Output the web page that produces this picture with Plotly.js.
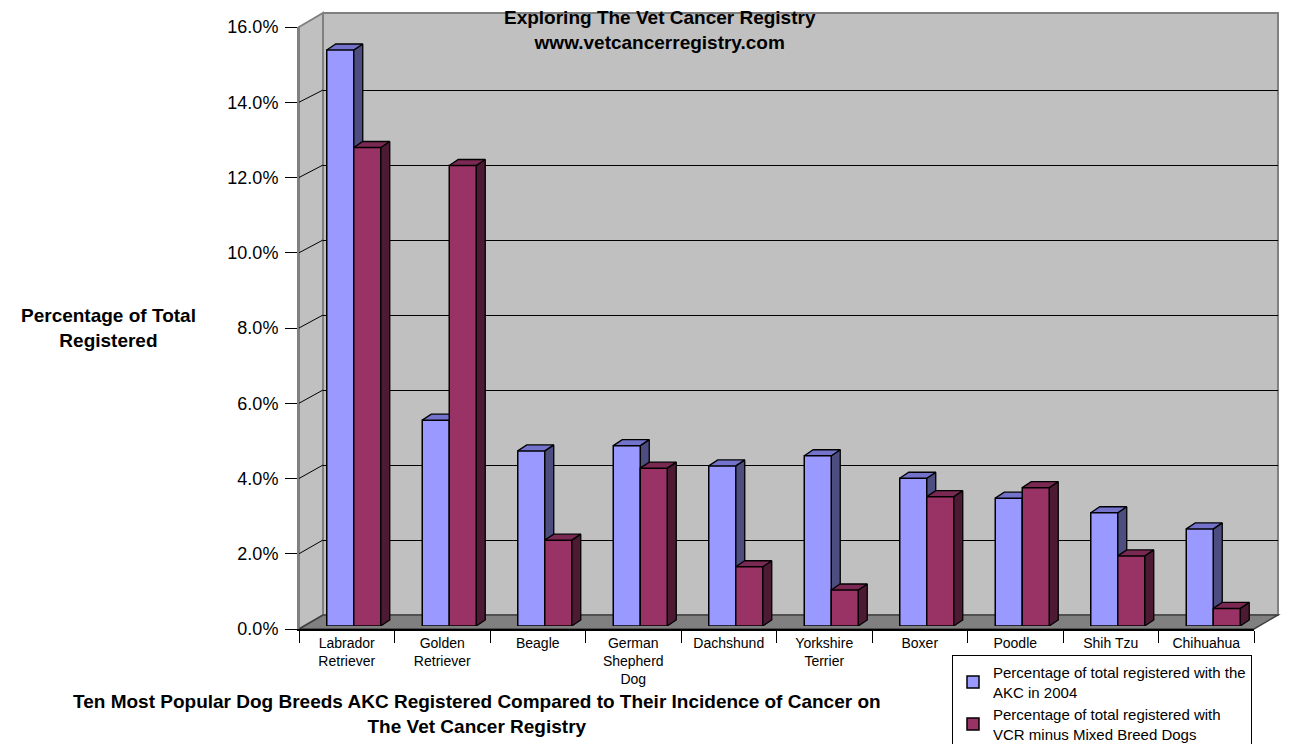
<!DOCTYPE html>
<html>
<head>
<meta charset="utf-8">
<script src="https://cdn.plot.ly/plotly-3.0.1.min.js"></script>
<style>html,body{margin:0;padding:0;background:#fff;}#chart{width:1303px;height:744px;}</style>
</head>
<body>
<div id="chart"></div>
<script>
// ---- data ----
var breeds = ['Labrador Retriever','Golden Retriever','Beagle','German Shepherd Dog','Dachshund','Yorkshire Terrier','Boxer','Poodle','Shih Tzu','Chihuahua'];
var tickLabels = ['Labrador<br>Retriever','Golden<br>Retriever','Beagle','German<br>Shepherd<br>Dog','Dachshund','Yorkshire<br>Terrier','Boxer','Poodle','Shih Tzu','Chihuahua'];
var akc2004 = [15.36, 5.49, 4.67, 4.81, 4.27, 4.54, 3.94, 3.41, 3.02, 2.59];
var vcrNoMixed = [12.76, 12.28, 2.29, 4.21, 1.58, 0.96, 3.45, 3.69, 1.87, 0.47];
var seriesNames = ['Percentage of total registered with the<br>AKC in 2004', 'Percentage of total registered with<br>VCR minus Mixed Breed Dogs'];
var yTicks = [0, 2, 4, 6, 8, 10, 12, 14, 16];
var chartTitle = ['Exploring The Vet Cancer Registry', 'www.vetcancerregistry.com'];
var yTitle = ['Percentage of Total', 'Registered'];
var xTitle = ['Ten Most Popular Dog Breeds AKC Registered Compared to Their Incidence of Cancer on', 'The Vet Cancer Registry'];

// ---- geometry (pixels -> paper) ----
var L = 299, R = 1278, T = 13, B = 629, W = R - L, H = B - T;
function px(x){ return (x - L) / W; }
function py(y){ return (B - y) / H; }
var depthX = 24, depthY = 14;           // wall depth in px
var frontScale = 602 / 16, backScale = 600 / 16;

var FONT = 'Liberation Sans, Arial, Helvetica, sans-serif';
var blue = '#9999FF', blueTop = '#7373CC', blueSide = '#4D4D80';
var red = '#993366', redTop = '#7A2952', redSide = '#4D1A33';

var idx = breeds.map(function(_, i){ return i; });
var w = 27 / 95.5;          // bar width in category units
var dx = 9 / 95.5;          // 3D depth offset (category units)
var dy = 6 / 37.5;          // 3D depth offset (value units)

function sideFaces(vals, left){
  var xs = [], ys = [];
  vals.forEach(function(v, i){
    var x0 = i + left;
    xs.push(x0, x0 + dx, x0 + dx, x0, null);
    ys.push(0, dy, v + dy, v, null);
  });
  return {x: xs, y: ys};
}
function topFaces(vals, left){
  var xs = [], ys = [];
  vals.forEach(function(v, i){
    var x0 = i + left;
    xs.push(x0, x0 + dx, x0 + w + dx, x0 + w, null);
    ys.push(v, v + dy, v + dy, v, null);
  });
  return {x: xs, y: ys};
}
function face(d, color){
  return {type:'scatter', mode:'lines', x:d.x, y:d.y, fill:'toself', fillcolor:color,
          line:{color:'#000', width:1.3}, xaxis:'x3', yaxis:'y3', hoverinfo:'skip', showlegend:false};
}
function bold(lines){ return lines.map(function(s){ return '<b>' + s + '</b>'; }).join('<br>'); }

var bs = sideFaces(akc2004, 0), bt = topFaces(akc2004, -w);
var rs = sideFaces(vcrNoMixed, w), rt = topFaces(vcrNoMixed, 0);

var traces = [
  // invisible trace carrying the front category axis
  {type:'scatter', mode:'markers', x:tickLabels, y:tickLabels.map(function(){return 0;}),
   marker:{opacity:0}, hoverinfo:'skip', showlegend:false, xaxis:'x', yaxis:'y'},
  // invisible trace carrying the back-wall grid axes
  {type:'scatter', mode:'markers', x:[0], y:[0], marker:{opacity:0}, hoverinfo:'skip', showlegend:false, xaxis:'x2', yaxis:'y2'},
  face(bs, blueSide), face(bt, blueTop), face(rs, redSide), face(rt, redTop),
  {type:'bar', name:seriesNames[0], x:idx, y:akc2004, width:w, offset:-w, text:breeds,
   hovertemplate:'%{text}: %{y:.1f}%<extra></extra>', textposition:'none',
   marker:{color:blue, line:{color:'#000', width:1.5}}, xaxis:'x4', yaxis:'y4'},
  {type:'bar', name:seriesNames[1], x:idx, y:vcrNoMixed, width:w, offset:0, text:breeds,
   hovertemplate:'%{text}: %{y:.1f}%<extra></extra>', textposition:'none',
   marker:{color:red, line:{color:'#000', width:1.5}}, xaxis:'x4', yaxis:'y4'}
];

// ---- walls and left-wall gridline diagonals ----
var shapes = [];
shapes.push({type:'rect', xref:'paper', yref:'paper', layer:'below',
  x0:px(L + depthX), x1:px(R), y0:py(B - depthY), y1:py(T),
  fillcolor:'#C0C0C0', line:{color:'#808080', width:2}});
shapes.push({type:'path', xref:'paper', yref:'paper', layer:'below',
  path:'M0,' + py(B - 16*frontScale) + ' L' + px(L+depthX) + ',' + py(T) + ' L' + px(L+depthX) + ',' + py(B-depthY) + ' L0,0 Z',
  fillcolor:'#C0C0C0', line:{color:'#808080', width:2}});
shapes.push({type:'path', xref:'paper', yref:'paper', layer:'below',
  path:'M0,0 L' + px(L+depthX) + ',' + py(B-depthY) + ' L1,' + py(B-depthY) + ' L' + px(R-depthX) + ',0 Z',
  fillcolor:'#808080', line:{color:'#404040', width:1.5}});
yTicks.slice(1, -1).forEach(function(v){
  shapes.push({type:'line', xref:'paper', yref:'paper', layer:'below',
    x0:0, y0:py(B - v*frontScale), x1:px(L+depthX), y1:py(B - depthY - v*backScale),
    line:{color:'#000', width:1}});
});

var layout = {
  width:1303, height:744,
  margin:{l:L, r:1303 - R, t:T, b:744 - B, autoexpand:false},
  paper_bgcolor:'#fff', plot_bgcolor:'rgba(0,0,0,0)',
  font:{family:FONT, color:'#000'},
  showlegend:true, barmode:'overlay',
  xaxis:{domain:[0, px(L + 955)], type:'category', categoryorder:'array', categoryarray:tickLabels,
    range:[-0.5, 9.5], tickson:'boundaries', ticks:'outside', ticklen:12, tickcolor:'#000', tickwidth:1,
    showline:true, linecolor:'#000', linewidth:1.5, showgrid:false, zeroline:false, tickangle:0,
    tickfont:{size:14, family:FONT, color:'#000'}, fixedrange:true},
  yaxis:{domain:[0, py(B - 16*frontScale)], range:[0, 16], tickvals:yTicks,
    ticktext:yTicks.map(function(v){ return v.toFixed(1) + '%'; }),
    ticks:'outside', ticklen:12, tickcolor:'#000', tickwidth:1, ticklabelstandoff:3,
    showline:true, linecolor:'#808080', linewidth:2, showgrid:false, zeroline:false,
    tickfont:{size:18, family:FONT, color:'#000'}, fixedrange:true},
  xaxis2:{domain:[px(L+depthX), 1], range:[0, 1], anchor:'y2', showticklabels:false, ticks:'',
    showgrid:false, zeroline:false, showline:false, fixedrange:true},
  yaxis2:{domain:[py(B-depthY), py(B-depthY-16*backScale)], range:[0, 16], anchor:'x2',
    tickvals:yTicks.slice(1, -1), showticklabels:false, ticks:'', showgrid:true, gridcolor:'#000', gridwidth:1,
    zeroline:false, showline:false, fixedrange:true},
  xaxis3:{domain:[px(306), px(1261)], range:[-0.5, 9.5], anchor:'y3', visible:false, fixedrange:true},
  yaxis3:{domain:[py(626), py(26)], range:[0, 16], anchor:'x3', visible:false, fixedrange:true},
  xaxis4:{domain:[px(306), px(1261)], range:[-0.5, 9.5], anchor:'y4', visible:false, fixedrange:true},
  yaxis4:{domain:[py(626), py(26)], range:[0, 16], anchor:'x4', visible:false, fixedrange:true},
  legend:{x:px(952), xanchor:'left', y:py(655), yanchor:'top', xref:'paper', yref:'paper',
    bgcolor:'#fff', bordercolor:'#000', borderwidth:1, itemwidth:30, tracegroupgap:0,
    font:{size:15, family:FONT, color:'#000'}, traceorder:'normal'},
  shapes:shapes,
  annotations:[
    {text:bold(chartTitle), xref:'paper', yref:'paper',
     x:px(660), y:py(30), xanchor:'center', yanchor:'middle', showarrow:false,
     font:{size:19, family:FONT, color:'#000'}},
    {text:bold(yTitle), xref:'paper', yref:'paper',
     x:px(108), y:py(328), xanchor:'center', yanchor:'middle', showarrow:false,
     font:{size:19, family:FONT, color:'#000'}},
    {text:bold(xTitle),
     xref:'paper', yref:'paper', x:px(477), y:py(714), xanchor:'center', yanchor:'middle', showarrow:false,
     font:{size:19, family:FONT, color:'#000'}}
  ]
};

Plotly.newPlot('chart', traces, layout, {displayModeBar:false});
</script>
</body>
</html>
